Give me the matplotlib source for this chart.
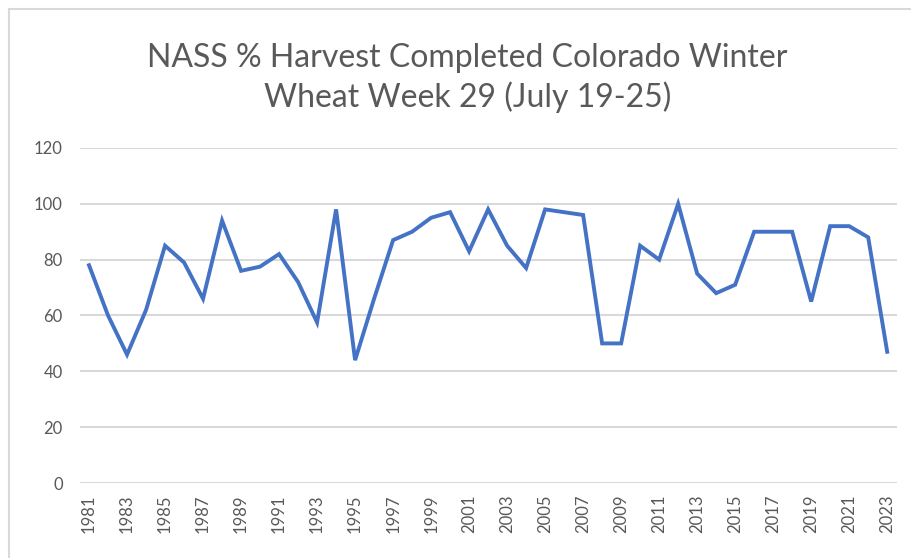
import matplotlib.pyplot as plt
from matplotlib.patches import Rectangle

years = list(range(1981, 2024))
pct_done = [78, 60, 46, 62, 85, 79, 66, 94, 76, 77.5, 82, 72, 57.5, 98, 44,
            66, 87, 90, 95, 97, 83, 98, 85, 77, 98, 97, 96, 50, 50, 85,
            80, 100, 75, 68, 71, 90, 90, 90, 65, 92, 92, 88, 47]
y_ticks = [0, 20, 40, 60, 80, 100, 120]
title = "NASS % Harvest Completed Colorado Winter\nWheat Week 29 (July 19-25)"

gray = "#595959"
plt.rcParams['font.family'] = ['Lato', 'DejaVu Sans']

fig = plt.figure(figsize=(9.11, 5.58), dpi=100)
ax = fig.add_axes([0.0873, 0.1344, 0.897, 0.6004])

x = list(range(len(years)))
ax.plot(x, pct_done, color="#4472C4", linewidth=2.8, solid_joinstyle="miter")

ax.set_xlim(-0.5, len(years) - 0.5)
ax.set_ylim(0, 120)
ax.set_yticks(y_ticks)
ax.set_yticklabels([str(v) for v in y_ticks], color=gray, fontsize=12)
ax.set_xticks(x[::2])
ax.set_xticklabels([str(y) for y in years[::2]], rotation=90, color=gray, fontsize=12)
ax.tick_params(length=0, pad=12)
ax.tick_params(axis="x", pad=8)

ax.grid(axis="y", color="#D9D9D9", linewidth=1.5)
ax.set_axisbelow(True)
for s in ax.spines.values():
    s.set_visible(False)

fig.text(0.513, 0.86, title, ha="center", va="center", fontsize=23,
         color=gray, linespacing=1.35)

# light chart border
fig.patches.append(Rectangle((9 / 911, -0.05), 1.2, 1 - 9 / 558 + 0.05,
                             transform=fig.transFigure, fill=False,
                             edgecolor="#D9D9D9", linewidth=1.5))

fig.savefig("out.png", dpi=100)
